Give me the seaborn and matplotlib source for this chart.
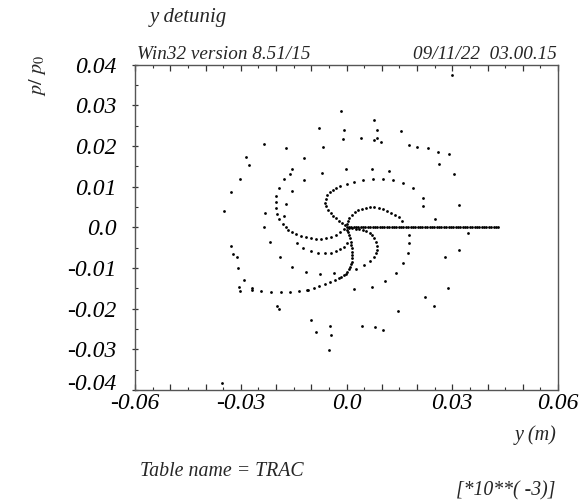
import matplotlib
matplotlib.use("Agg")
import matplotlib.pyplot as plt
import seaborn as sns
import pandas as pd
from matplotlib.ticker import MultipleLocator, FuncFormatter

# ---- data (y in m, p/p0) ----
turn0_y = [0.0, 0.00067, 0.00135, 0.00202, 0.00269, 0.00337, 0.00404, 0.00471, 0.00538,
           0.00606, 0.00673, 0.00740, 0.00808, 0.00875, 0.00942, 0.01010, 0.01077, 0.01144,
           0.01211, 0.01279, 0.01346, 0.01413, 0.01481, 0.01548, 0.01615, 0.01683, 0.01750,
           0.01817, 0.01884, 0.01952, 0.02019, 0.02086, 0.02154, 0.02221, 0.02288, 0.02356,
           0.02423, 0.02490, 0.02557, 0.02625, 0.02692, 0.02759, 0.02827, 0.02894, 0.02961,
           0.03029, 0.03096, 0.03163, 0.03230, 0.03298, 0.03365, 0.03432, 0.03500, 0.03567,
           0.03634, 0.03702, 0.03769, 0.03836, 0.03903, 0.03971, 0.04038, 0.04105, 0.04173,
           0.04240, 0.04307]
turn0_p = [0.0] * len(turn0_y)

armA_y = [0.00014, 0.00034, 0.00077, 0.00148, 0.00233, 0.00332, 0.00445, 0.00559, 0.00672,
          0.00786, 0.00908, 0.01033, 0.01155, 0.01274, 0.01382, 0.01481, 0.01580, 0.01759,
          0.01779, 0.01742, 0.01609, 0.01396, 0.01092, 0.00729, 0.00199]
armA_p = [0.00071, 0.00145, 0.00219, 0.00305, 0.00374, 0.00421, 0.00461, 0.00483, 0.00495,
          0.00495, 0.00478, 0.00453, 0.00414, 0.00365, 0.00313, 0.00256, 0.00153, -0.00180,
          -0.00389, -0.00623, -0.00872, -0.01116, -0.01320, -0.01456, -0.01512]

armB_y = [-0.00051, -0.00122, -0.00207, -0.00292, -0.00377, -0.00448, -0.00519, -0.00576,
          -0.00599, -0.00590, -0.00548, -0.00477, -0.00392, -0.00292, -0.00179, 0.0, 0.00210,
          0.00454, 0.00738, 0.01033, 0.01333, 0.01617, 0.01892, 0.02167, 0.02167]
armB_p = [0.00047, 0.00096, 0.00158, 0.00219, 0.00281, 0.00355, 0.00429, 0.00515, 0.00601,
          0.00699, 0.00786, 0.00864, 0.00921, 0.00978, 0.01027, 0.01076, 0.01126, 0.01175,
          0.01199, 0.01199, 0.01175, 0.01101, 0.00963, 0.00717, 0.00522]

armC_y = [0.00077, 0.00170, 0.00267, 0.00360, 0.00460, 0.00559, 0.00653, 0.00729, 0.00786,
          0.00834, 0.00860, 0.00860, 0.00834, 0.00786, 0.00672, 0.00502, 0.00275]
armC_p = [-0.00012, -0.00022, -0.00032, -0.00044, -0.00064, -0.00096, -0.00138, -0.00195,
          -0.00268, -0.00352, -0.00451, -0.00549, -0.00638, -0.00722, -0.00823, -0.00926,
          -0.01012]

armD_y = [-0.00065, -0.00179, -0.00301, -0.00443, -0.00584, -0.00726, -0.00868, -0.01010,
          -0.01152, -0.01294, -0.01436, -0.01560, -0.01654,
          0.00028, -0.00065, -0.00179, -0.00301, -0.00443, -0.00604, -0.00803, -0.01010,
          -0.01220, -0.01407]
armD_p = [-0.00052, -0.00126, -0.00187, -0.00232, -0.00261, -0.00276, -0.00278, -0.00268,
          -0.00244, -0.00212, -0.00170, -0.00121, -0.00059,
          -0.00392, -0.00475, -0.00532, -0.00581, -0.00623, -0.00638, -0.00631, -0.00581,
          -0.00515, -0.00392]

armE_y = [0.00020, 0.00054, 0.00077, 0.00099, 0.00122, 0.00139, 0.00153, 0.00162, 0.00167,
          0.00162, 0.00150, 0.00133, 0.00105, 0.00071, 0.00028, -0.00017, -0.00074, -0.00145,
          -0.00221, -0.00329, -0.00462, -0.00604, -0.00766, -0.00936, -0.01087, -0.01123,
          -0.01350, -0.01597, -0.01861, -0.02145, -0.02428, -0.02695, -0.02695, -0.03016,
          -0.03044, -0.02911, -0.03092, -0.03109, -0.03234, -0.03280]
armE_p = [-0.00064, -0.00126, -0.00187, -0.00268, -0.00352, -0.00433, -0.00515, -0.00599,
          -0.00680, -0.00761, -0.00845, -0.00906, -0.00968, -0.01030, -0.01091, -0.01138,
          -0.01180, -0.01217, -0.01251, -0.01296, -0.01352, -0.01401, -0.01443, -0.01493,
          -0.01549, -0.01530, -0.01559, -0.01584, -0.01598, -0.01598, -0.01566, -0.01542,
          -0.01485, -0.01566, -0.01468, -0.01303, -0.00993, -0.00722, -0.00655, -0.00458]

outer_y = [0.02990, -0.00142, 0.00794, -0.00794, -0.00085, 0.00879, 0.01543, -0.00094,
           0.00409, 0.00777, 0.00862, 0.00976, -0.02343, -0.01725, -0.00675, 0.01759,
           0.01986, 0.02326, 0.02593, 0.02914, -0.02845, -0.01192, -0.02775, -0.01549,
           -0.01589, -0.00709, -0.00023, 0.00729, 0.01217, 0.02638, 0.03055, -0.03024,
           -0.01787, -0.01192, -0.01923, -0.01532, -0.03263, -0.01994, -0.01994, -0.01711,
           0.03203, -0.03478, -0.02321, -0.02003, -0.01958, -0.01759, -0.01901, 0.02511,
           -0.01804, -0.02335, -0.01719, 0.03453,
           -0.02184, -0.01889, -0.01532, -0.01143, -0.00746, -0.00363, -0.01960, -0.01901,
           -0.01010, -0.00874, -0.00468, -0.00428, -0.00496, 0.00426, 0.00806, 0.01033,
           0.01461, 0.02474, 0.02233, 0.02871, 0.02794, 0.03203, -0.03546]
outer_p = [0.03736, 0.02850, 0.02645, 0.02441, 0.02392, 0.02392, 0.02367, 0.02177,
           0.02202, 0.02153, 0.02195, 0.02111, 0.02054, 0.01961, 0.01980, 0.02017,
           0.01968, 0.01948, 0.01845, 0.01800, 0.01734, 0.01702, 0.01532, 0.01431,
           0.01310, 0.01347, 0.01433, 0.01446, 0.01382, 0.01557, 0.01308, 0.01185,
           0.01185, 0.01167, 0.00965, 0.00892, 0.00864, 0.00781, 0.00618, 0.00581,
           0.00547, 0.00404, 0.00350, 0.00470, 0.00323, 0.00281, 0.00207, 0.00202,
           0.00091, -0.00002, 0.00010, -0.00131,
           -0.00372, -0.00736, -0.00975, -0.01094, -0.01140, -0.01131, -0.01929, -0.01998,
           -0.02286, -0.02584, -0.02433, -0.02655, -0.03027, -0.02433, -0.02453, -0.02520,
           -0.02066, -0.01936, -0.01719, -0.01483, -0.00736, -0.00569, -0.03827]

x_ticks_labelled = [-0.06, -0.03, 0.0, 0.03, 0.06]

# ---- build table ----
xs = turn0_y + armA_y + armB_y + armC_y + armD_y + armE_y + outer_y
ys = turn0_p + armA_p + armB_p + armC_p + armD_p + armE_p + outer_p
df = pd.DataFrame({"y": xs, "p": ys})

sns.set_style("ticks")
plt.rcParams["font.family"] = ["Liberation Serif", "DejaVu Serif"]
plt.rcParams["mathtext.fontset"] = "stix"
plt.rcParams["axes.unicode_minus"] = False

W, H = 580, 504
fig = plt.figure(figsize=(W / 100, H / 100), dpi=100)
ax = fig.add_axes([135 / W, 1 - 390 / H, (558 - 135) / W, (390 - 64.7) / H])

sns.scatterplot(data=df, x="y", y="p", color="black", s=4, linewidth=0,
                marker="o", ax=ax, legend=False)

ax.set_xlim(-0.06, 0.06)
ax.set_ylim(-0.04, 0.04)
ax.set_xlabel("")
ax.set_ylabel("")

ax.xaxis.set_major_locator(MultipleLocator(0.01))
ax.xaxis.set_minor_locator(MultipleLocator(0.005))
ax.yaxis.set_major_locator(MultipleLocator(0.01))
ax.yaxis.set_minor_locator(MultipleLocator(0.005))


def xfmt(v, pos):
    for t in x_ticks_labelled:
        if abs(v - t) < 1e-9:
            return "0.0" if abs(t) < 1e-12 else f"{t:.2f}"
    return ""


def yfmt(v, pos):
    return "0.0" if abs(v) < 1e-12 else f"{v:.2f}"


ax.xaxis.set_major_formatter(FuncFormatter(xfmt))
ax.yaxis.set_major_formatter(FuncFormatter(yfmt))

ax.tick_params(axis="x", which="major", direction="in", length=4, width=0.9,
               top=True, bottom=True, labelsize=17, pad=2, colors="#333333")
ax.tick_params(axis="x", which="minor", direction="in", length=2, width=0.8,
               top=True, bottom=True, colors="#333333")
ax.tick_params(axis="y", which="major", direction="inout", length=5, width=0.9,
               left=True, right=False, labelsize=17, pad=11, colors="#333333")
ax.tick_params(axis="y", which="minor", direction="in", length=2, width=0.8,
               left=True, right=False, colors="#333333")

fig.canvas.draw()
for lab in ax.get_xticklabels() + ax.get_yticklabels():
    lab.set_fontstyle("italic")
    lab.set_color("black")
for tk in ax.yaxis.get_major_ticks():
    if abs(tk.get_loc() + 0.04) < 1e-9:
        tk.label1.set_verticalalignment("baseline")

for sp in ax.spines.values():
    sp.set_visible(True)
    sp.set_color("#555555")
    sp.set_linewidth(1.0)


def ftext(px, py, s, **kw):
    fig.text(px / W, 1 - py / H, s, fontstyle="italic", **kw)


ftext(150, 22, "y detunig", fontsize=15, ha="left", va="baseline")
ftext(137, 59, "Win32 version 8.51/15", fontsize=13.8, ha="left", va="baseline")
ftext(557, 59, "09/11/22  03.00.15", fontsize=13.8, ha="right", va="baseline")
fig.text(37 / W, 1 - 76 / H, r"$\mathit{p/\ p_0}$", fontsize=14.5, rotation=90,
         ha="center", va="center")
ftext(557, 435, "y (m)", fontsize=14.5, ha="right", va="center")
ftext(140, 471, "Table name = TRAC", fontsize=14.3, ha="left", va="center")
ftext(555, 491, "[*10**( -3)]", fontsize=14.2, ha="right", va="center")

fig.savefig("out.png", dpi=100)
